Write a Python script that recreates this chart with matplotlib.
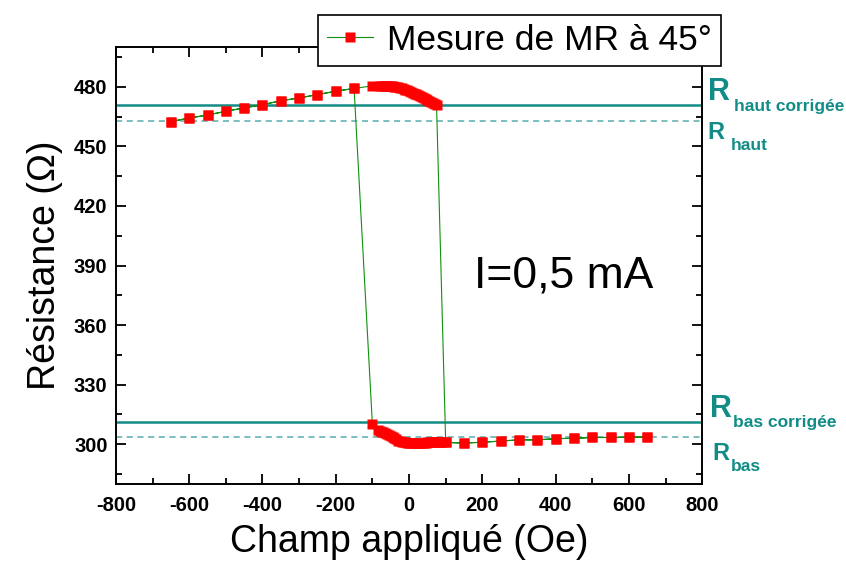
import numpy as np
import matplotlib
matplotlib.use("Agg")
import matplotlib.pyplot as plt
import matplotlib.transforms as mtransforms
from matplotlib.ticker import MultipleLocator

plt.rcParams['font.family'] = ['Liberation Sans', 'DejaVu Sans']
plt.rcParams['axes.unicode_minus'] = False

# upper branch, coarse steps (Oe, Ohm)
field_haut = [-650, -600, -550, -500, -450, -400, -350, -300, -250, -200, -150, -100]
r_haut = [462.5, 464.3, 465.8, 467.7, 469.4, 471.0, 473.0, 474.4, 476.1, 477.8, 479.2, 480.5]

# upper branch, dense part before switching
field_haut_dense = [-80, -75, -70, -65, -60, -55, -50, -45, -40, -35, -30, -25, -20, -15,
                    -10, -5, 0, 5, 10, 15, 20, 25, 30, 35, 40, 45, 50, 55, 60, 65, 70, 75]
r_haut_dense = [480.3, 480.4, 480.4, 480.5, 480.4, 480.4, 480.3, 480.2, 480.1, 480.0,
                479.8, 479.5, 479.3, 478.9, 478.6, 478.2, 477.9, 477.5, 477.1, 476.6,
                476.2, 475.7, 475.2, 474.7, 474.2, 473.7, 473.2, 472.8, 472.3, 471.8,
                471.4, 471.0]

# lower branch, coarse steps
field_bas = [100, 150, 200, 250, 300, 350, 400, 450, 500, 550, 600, 650]
r_bas = [300.9, 300.6, 301.0, 301.6, 302.2, 302.2, 302.8, 303.0, 303.4, 303.4, 303.6, 303.6]

# lower branch, dense part (decreasing field)
field_bas_dense = [90, 85, 80, 75, 70, 65, 60, 55, 50, 45, 40, 35, 30, 25, 20, 15, 10, 5, 0,
                   -5, -10, -15, -20, -25, -30, -35, -40, -45, -50, -55, -60, -65, -70,
                   -75, -80, -85]
r_bas_dense = [301.0, 301.0, 301.0, 300.9, 300.9, 300.9, 300.9, 300.9, 300.9, 300.8,
               300.8, 300.8, 300.8, 300.8, 300.8, 300.8, 300.8, 300.8, 300.8, 300.8,
               300.9, 301.0, 301.1, 301.4, 301.8, 302.4, 303.0, 303.7, 304.3, 304.8,
               305.3, 305.7, 306.0, 306.4, 306.8, 307.2]

# last low point before the jump
field_switch_bas = -100
r_switch_bas = 310.0

# reference levels
r_haut_corr = 471.0
r_haut_ref = 463.0
r_bas_corr = 311.0
r_bas_ref = 303.5

# sweep down then sweep up
field_down = field_bas[::-1] + field_bas_dense + [field_switch_bas] + field_haut[-2::-1]
r_down = r_bas[::-1] + r_bas_dense + [r_switch_bas] + r_haut[-2::-1]
field_up = field_haut + field_haut_dense + field_bas
r_up = r_haut + r_haut_dense + r_bas
field = np.array(field_down + field_up)
resist = np.array(r_down + r_up)

teal = '#128c86'

fig = plt.figure(figsize=(8.46, 5.68), dpi=100)
ax = fig.add_axes([0.137, 0.148, 0.693, 0.769])

ax.axhline(r_haut_corr, color=teal, lw=1.8, zorder=1)
ax.axhline(r_bas_corr, color=teal, lw=1.8, zorder=1)
ax.axhline(r_haut_ref, color='#5aacac', lw=1.1, ls=(0, (4, 3)), zorder=1)
ax.axhline(r_bas_ref, color='#5aacac', lw=1.1, ls=(0, (4, 3)), zorder=1)

ax.plot(field, resist, color='#109010', lw=0.8, marker='s', ms=7.3,
        mfc='#ff0000', mec='none', label='Mesure de MR à 45°', zorder=3)

ax.set_xlim(-800, 800)
ax.set_ylim(280, 500)
ax.xaxis.set_major_locator(MultipleLocator(200))
ax.xaxis.set_minor_locator(MultipleLocator(100))
ax.yaxis.set_major_locator(MultipleLocator(30))
ax.yaxis.set_minor_locator(MultipleLocator(15))
ax.tick_params(which='both', direction='in', width=1.3, labelsize=14.5,
               top=True, right=True)
ax.tick_params(which='major', length=7)
ax.tick_params(which='minor', length=4)
ax.tick_params(axis='x', pad=9)
ax.tick_params(axis='y', pad=6)
for lab in ax.get_xticklabels() + ax.get_yticklabels():
    lab.set_fontweight('bold')
for sp in ax.spines.values():
    sp.set_linewidth(1.4)

ax.set_xlabel('Champ appliqué (Oe)', fontsize=27, labelpad=6)
ax.set_ylabel('Résistance (Ω)', fontsize=27, labelpad=8)

ax.text(178, 379, 'I=0,5 mA', fontsize=32)

leg = ax.legend(loc='upper left', bbox_to_anchor=(318 / 846, 1 - 15 / 568),
                bbox_transform=fig.transFigure, fontsize=25.5, handlelength=1.3,
                handletextpad=0.4, borderpad=0.25, borderaxespad=0,
                fancybox=False, framealpha=1, edgecolor='black')
leg.get_frame().set_linewidth(1.2)

trans = mtransforms.blended_transform_factory(ax.transAxes, ax.transData)
labels_right = [
    (r_haut_corr, 'haut corrigée', 4.5, 3.6, 22, 23, -4.5),
    (r_haut_ref, 'haut', 3.6, -13, 17, 20.5, -21),
    (r_bas_corr, 'bas corrigée', 5.8, 3.6, 22, 22, -3.6),
    (r_bas_ref, 'bas', 7.2, -16.5, 17, 20.5, -24.5),
]
for yv, sub, dx, dy, size, sdx, sdy in labels_right:
    ax.annotate('R', xy=(1, yv), xycoords=trans, xytext=(dx, dy),
                textcoords='offset points', fontsize=size, fontweight='bold',
                color=teal, va='baseline', ha='left', annotation_clip=False)
    ax.annotate(sub, xy=(1, yv), xycoords=trans, xytext=(sdx, sdy),
                textcoords='offset points', fontsize=12.5, fontweight='bold',
                color=teal, va='baseline', ha='left', annotation_clip=False)

fig.savefig('out.png', dpi=100)
